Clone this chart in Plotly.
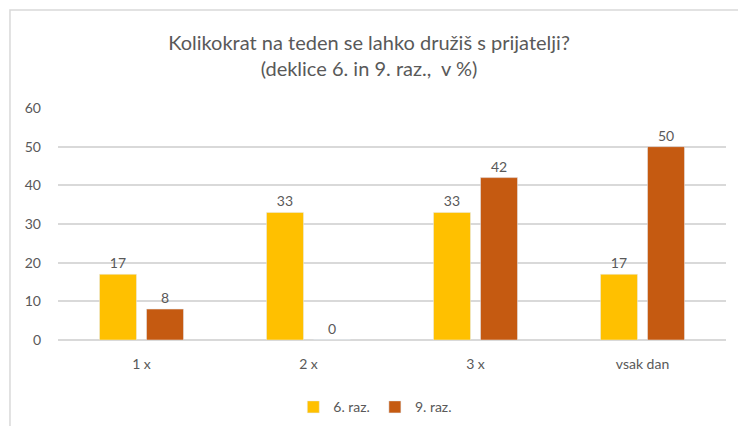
import plotly.graph_objects as go

categories = ["1 x", "2 x", "3 x", "vsak dan"]
razred_6 = [17, 33, 33, 17]
razred_9 = [8, 0, 42, 50]

TEXT = "#595959"
GRID = "#D9D9D9"
FONT = "Lato, 'Open Sans', sans-serif"

fig = go.Figure()
fig.add_trace(go.Bar(
    x=categories, y=razred_6, name="6. raz.",
    marker=dict(color="#FFC000"),
    text=razred_6, textposition="outside",
    textfont=dict(color=TEXT, size=14, family=FONT),
    cliponaxis=False,
))
fig.add_trace(go.Bar(
    x=categories, y=razred_9, name="9. raz.",
    marker=dict(color="#C55A11"),
    text=razred_9, textposition="outside",
    textfont=dict(color=TEXT, size=14, family=FONT),
    cliponaxis=False,
))

fig.update_layout(
    width=738, height=426,
    margin=dict(l=58, r=12, t=108, b=86, autoexpand=False),
    paper_bgcolor="white", plot_bgcolor="white",
    font=dict(family=FONT, color=TEXT, size=14),
    title=dict(
        text="Kolikokrat na teden se lahko družiš s prijatelji?<br>(deklice 6. in 9. raz.,  v %)",
        x=0.5, xanchor="center", y=0.883, yanchor="middle",
        font=dict(size=20, color=TEXT, family=FONT),
    ),
    barmode="group", bargap=0.437, bargroupgap=0.213,
    showlegend=True,
    legend=dict(orientation="h", x=0.475, xanchor="center", y=-0.29, yanchor="middle",
                font=dict(size=14, color=TEXT), itemwidth=30, traceorder="normal"),
    xaxis=dict(showgrid=False, showline=False, ticks="", automargin=False,
               tickfont=dict(size=14, color=TEXT), ticklabelstandoff=14),
    yaxis=dict(range=[0, 60], dtick=10, showgrid=True, gridcolor=GRID, gridwidth=1.5,
               zeroline=True, zerolinecolor=GRID, zerolinewidth=1.5, showline=False,
               automargin=False, tickfont=dict(size=14, color=TEXT), ticklabelstandoff=16),
    shapes=[dict(type="rect", xref="paper", yref="paper",
                 x0=-0.0719, x1=1.1, y0=-0.6, y1=1.4224,
                 line=dict(color=GRID, width=1.5), layer="below")],
)

fig.write_html("out.html", config={"displayModeBar": False},
               post_script="document.body.style.margin='0px';")
